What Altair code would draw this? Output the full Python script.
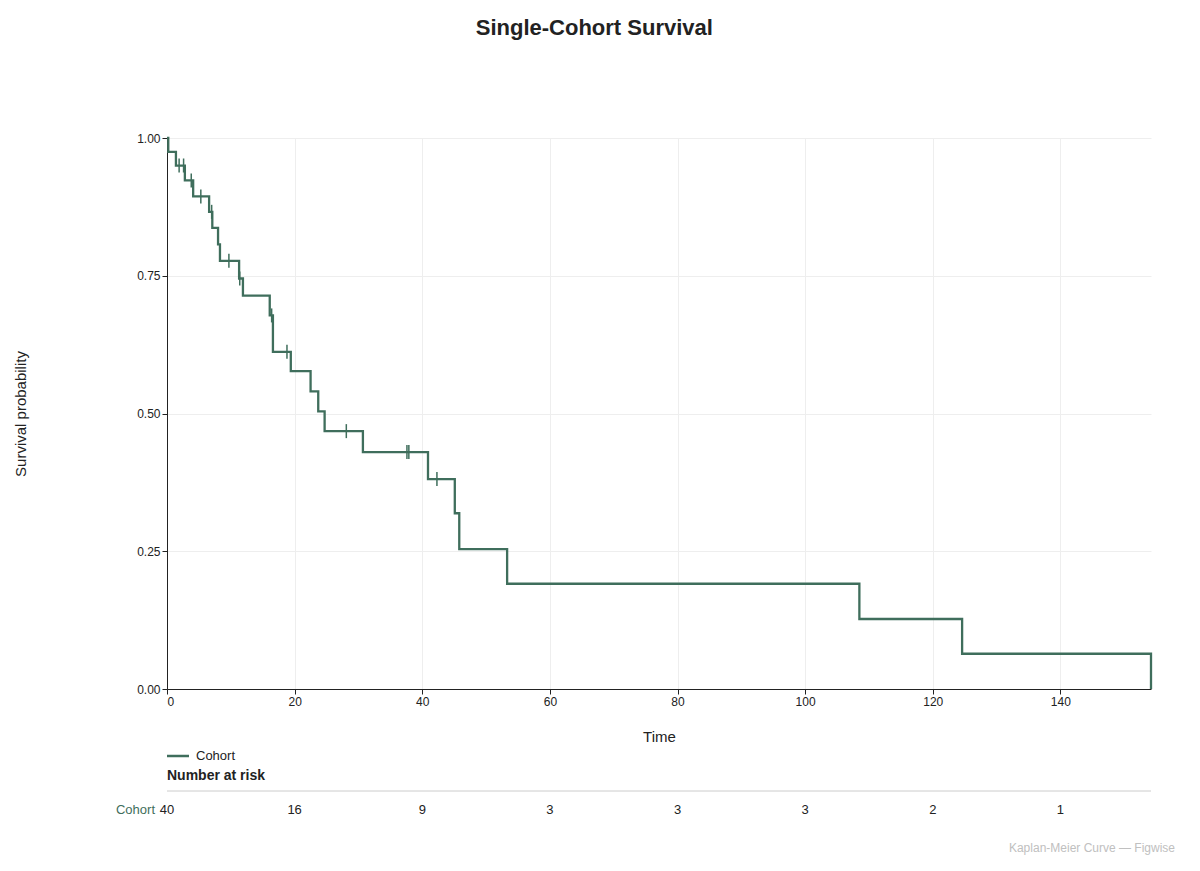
import altair as alt
import pandas as pd

# Kaplan-Meier steps (time, survival)
step_times = [0, 0.2, 1.4, 2.8, 4.1, 6.6, 7.1, 8.0, 8.3, 11.3, 11.9, 16.1, 16.6,
              19.4, 22.5, 23.7, 24.7, 30.7, 40.9, 45.1, 45.8, 53.3, 108.5, 124.6, 154.2]
step_surv = [1.0, 0.975, 0.95, 0.923, 0.894, 0.866, 0.837, 0.807, 0.777, 0.745, 0.714,
             0.678, 0.612, 0.577, 0.540, 0.504, 0.468, 0.430, 0.381, 0.319, 0.254,
             0.191, 0.127, 0.064, 0.0]

# censored observations
cens_times = [1.9, 2.6, 3.8, 5.3, 7.0, 9.7, 11.4, 16.4, 18.8, 28.1, 37.6, 37.9, 42.3]
cens_surv = [0.95, 0.95, 0.923, 0.894, 0.866, 0.777, 0.745, 0.678, 0.612, 0.468, 0.430, 0.430, 0.381]

# number at risk
risk_times = [0, 20, 40, 60, 80, 100, 120, 140]
risk_counts = [40, 16, 9, 3, 3, 3, 2, 1]

GREEN = "#3f6e5c"
W, H = 984, 551

steps = pd.DataFrame({"time": step_times, "surv": step_surv})
cens = pd.DataFrame({"time": cens_times, "surv": cens_surv})
risk = pd.DataFrame({"time": risk_times, "n": risk_counts})

xs = alt.Scale(domain=[0, 154.2], nice=False, zero=True)
ys = alt.Scale(domain=[0, 1], nice=False)

line = alt.Chart(steps).mark_line(interpolate="step-after", color=GREEN, strokeWidth=2.3).encode(
    x=alt.X("time:Q", scale=xs, title="Time",
            axis=alt.Axis(values=[0, 20, 40, 60, 80, 100, 120, 140], titlePadding=22)),
    y=alt.Y("surv:Q", scale=ys, title="Survival probability",
            axis=alt.Axis(values=[0, 0.25, 0.5, 0.75, 1.0], format=".2f", titlePadding=108)),
)

ticks = alt.Chart(cens).mark_tick(orient="vertical", color=GREEN, size=14, thickness=1.5, opacity=1).encode(
    x=alt.X("time:Q", scale=xs), y=alt.Y("surv:Q", scale=ys))

risk_txt = alt.Chart(risk).mark_text(fontSize=13, color="#222", baseline="middle").encode(
    x=alt.X("time:Q", scale=xs), y=alt.value(672), text="n:Q")

extras = []
def lbl(x, y, text, **kw):
    return alt.Chart(pd.DataFrame({"t": [text]})).mark_text(baseline="middle", **kw).encode(
        x=alt.value(x), y=alt.value(y), text="t:N")

extras.append(lbl(-12, 672, "Cohort", align="right", fontSize=13, color=GREEN))
extras.append(lbl(0, 638, "Number at risk", align="left", fontSize=14, fontWeight="bold", color="#222"))
extras.append(lbl(29, 618, "Cohort", align="left", fontSize=13, color="#222"))
extras.append(lbl(W + 24, 710, "Kaplan-Meier Curve — Figwise", align="right", fontSize=12, color="#c0c0c0"))
extras.append(alt.Chart(pd.DataFrame({"a": [0]})).mark_rule(color=GREEN, strokeWidth=2.5).encode(
    x=alt.value(0), x2=alt.value(22), y=alt.value(618)))
extras.append(alt.Chart(pd.DataFrame({"a": [0]})).mark_rule(color="#ccc", strokeWidth=1).encode(
    x=alt.value(0), x2=alt.value(W), y=alt.value(653)))

chart = alt.layer(line, ticks, risk_txt, *extras).properties(
    width=W, height=H,
    title=alt.TitleParams("Single-Cohort Survival", fontSize=22, fontWeight="bold",
                          color="#222", anchor="middle", frame="bounds", offset=92),
    padding={"top": 9, "left": 5, "right": 5, "bottom": 5},
).configure_view(stroke=None).configure_axis(
    labelFontSize=12, labelColor="#222", titleFontSize=15, titleColor="#222", titleFontWeight="normal",
    gridColor="#eeeeee", domainColor="#222", tickColor="#222", labelFont="Liberation Sans",
    titleFont="Liberation Sans",
).configure_axisX(grid=True).configure_text(font="Liberation Sans").configure_title(font="Liberation Sans")

chart.save("out.html", embed_options={"renderer": "svg", "actions": False})
